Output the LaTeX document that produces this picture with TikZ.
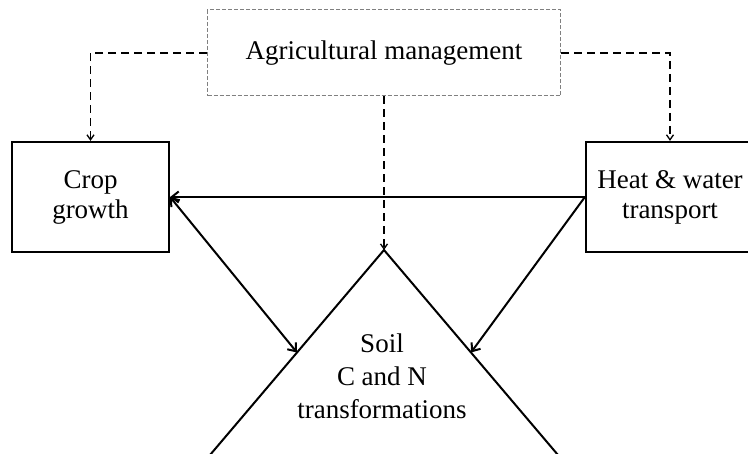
\documentclass[tikz,border=0pt]{standalone}
\usepackage{fontspec}
\setmainfont{Liberation Serif}
\usetikzlibrary{arrows.meta,calc}
\begin{document}
\begin{tikzpicture}[x=1pt,y=-1pt,
  txt/.style={font=\fontsize{27}{30}\selectfont, align=center, inner sep=0pt},
  solidbox/.style={txt, draw=black, line width=2.2pt},
  mgmtbox/.style={txt, draw=black!50, line width=1pt, dash pattern=on 4pt off 2pt},
  tipS/.style={},
  solidarrow/.style={line width=2pt, -{Straight Barb[length=7pt,width=11pt,line width=2pt]}},
  dasharrow/.style={line width=1.3pt, dash pattern=on 8pt off 5pt, -{Straight Barb[length=5pt,width=7pt,line width=1.3pt]}},
  triedge/.style={line width=2pt}
]
\useasboundingbox (0,0) rectangle (748,454);
\clip (0,0) rectangle (748,454);
\fill[white] (0,0) rectangle (748,454);

% nodes
\node[mgmtbox, minimum width=353pt, minimum height=86pt] (agri) at (384,53) {Agricultural management};
\node[solidbox, minimum width=157pt, minimum height=110pt] (crop) at (90.5,197) {Crop\\growth};
\node[solidbox, minimum width=168pt, minimum height=110pt] (heat) at (670,197) {Heat \& water\\transport};

% triangle
\coordinate (apex) at (384,250);
\coordinate (bl) at (210,455);
\coordinate (br) at (558,455);
\draw[triedge] (bl) -- (apex) -- (br);
\draw[black!20, line width=0.8pt] (bl) -- (br);
\node[txt, font=\fontsize{27}{33}\selectfont] (soil) at (382,376) {Soil\\C and N\\transformations};
\coordinate (lside) at ($(apex)!0.5!(bl)$);
\coordinate (rside) at ($(apex)!0.5!(br)$);

% solid connectors
\draw[solidarrow] (heat.west) -- (crop.east);
\draw[solidarrow, {Straight Barb[length=7pt,width=11pt,line width=2pt]}-{Straight Barb[length=7pt,width=11pt,line width=2pt]}] (crop.east) -- (lside);
\draw[solidarrow] (heat.west) -- (rside);

% dashed connectors
\draw[dasharrow] (agri.west) -| (crop.north);
\draw[dasharrow] (agri.east) -| (heat.north);
\draw[dasharrow] (agri.south) -- (apex);
\end{tikzpicture}
\end{document}
